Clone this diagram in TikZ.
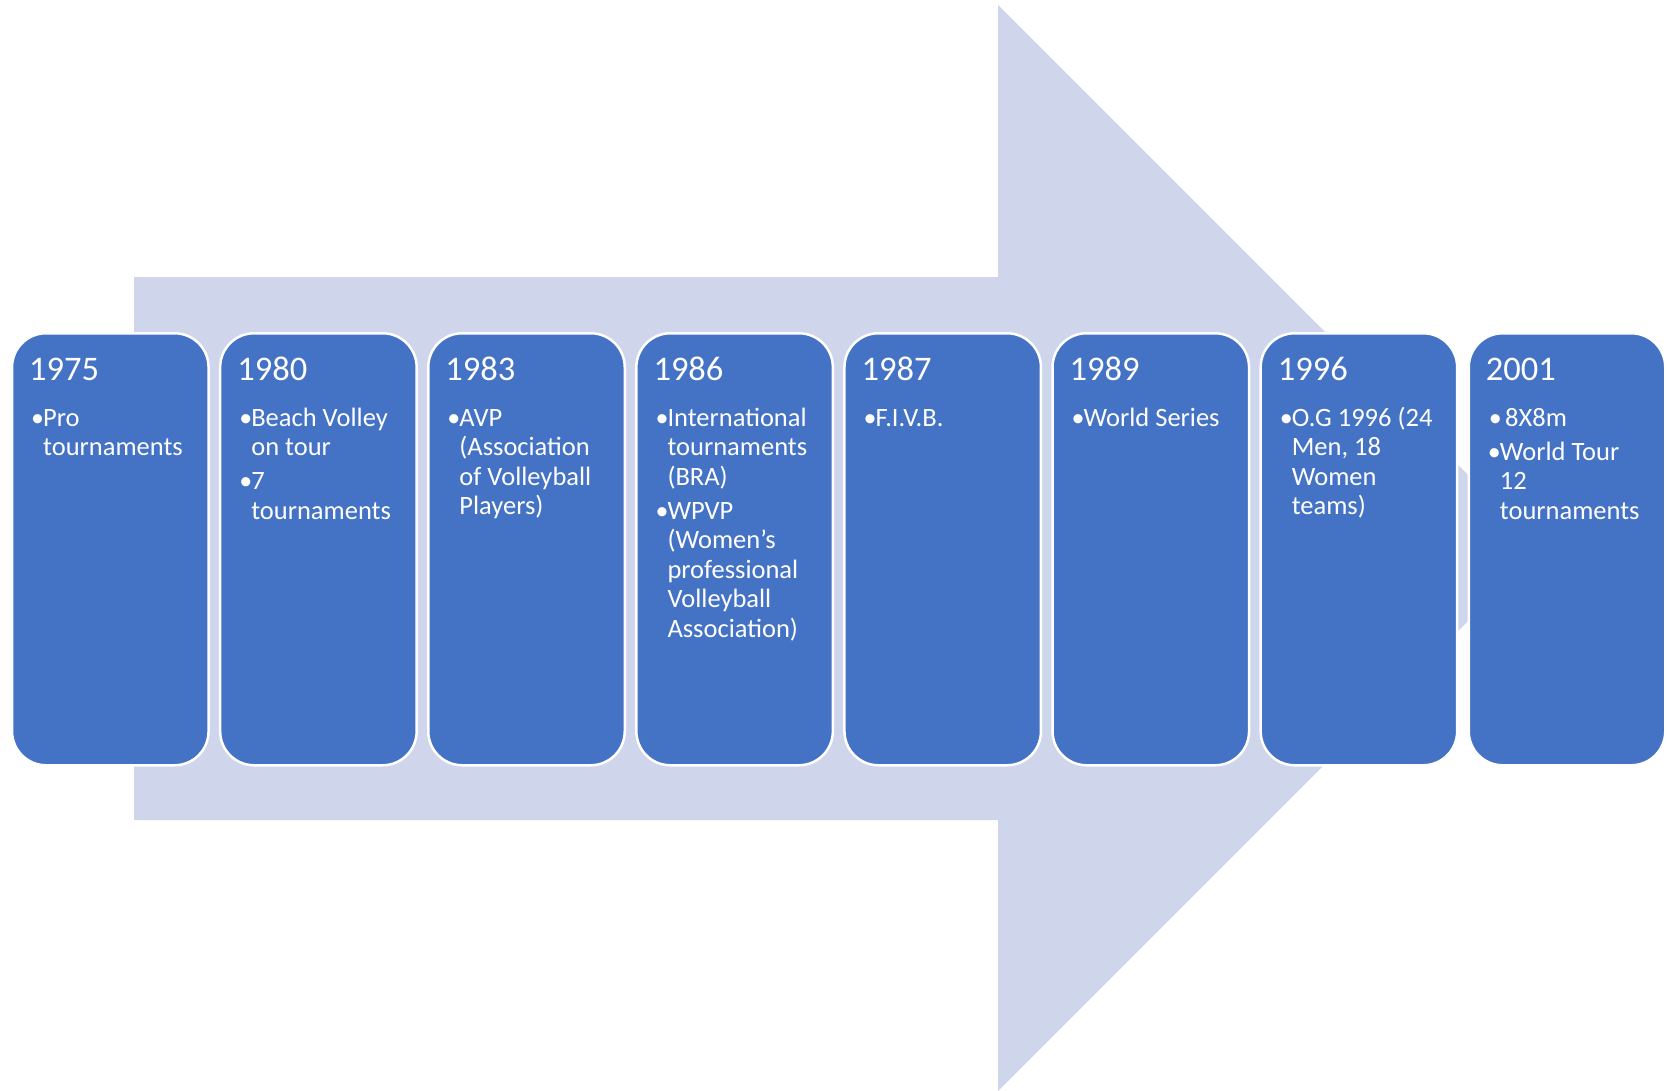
\documentclass[tikz,border=0pt]{standalone}
\usepackage{fontspec}
\setmainfont{Carlito}
\definecolor{boxblue}{HTML}{4472C4}
\definecolor{arrowbg}{HTML}{CFD5EA}
\tikzset{
  card/.style={draw=white, line width=2.5pt, fill=boxblue, rounded corners=34pt,
    minimum width=196.5pt, minimum height=432pt, anchor=north west, inner sep=0pt},
  yeartext/.style={anchor=base west, inner sep=0pt, text=white, font=\fontsize{34.5}{40}\selectfont},
  bulletdot/.style={anchor=base west, inner sep=0pt, text=white, font=\fontsize{26}{29.5}\selectfont},
  itemtext/.style={anchor=north west, inner sep=0pt, text=white, align=left, font=\fontsize{26.5}{29.5}\selectfont},
  bigarrow/.style={fill=arrowbg, draw=none}
}
\begin{document}
\begin{tikzpicture}[x=1pt, y=-1pt]
\useasboundingbox (0,0) rectangle (1667,1090);
% background arrow
\fill[bigarrow] (134,277) -- (998,277) -- (998,5) -- (1541,548) -- (998,1091) -- (998,820) -- (134,820) -- cycle;
% cards
\node[card] (c1) at (10.8,332) {};
\node[card] (c2) at (218.9,332) {};
\node[card] (c3) at (427.0,332) {};
\node[card] (c4) at (635.1,332) {};
\node[card] (c5) at (843.2,332) {};
\node[card] (c6) at (1051.3,332) {};
\node[card] (c7) at (1259.4,332) {};
\node[card] (c8) at (1467.5,332) {};
% years
\node[yeartext] (y1) at (29,380) {1975};
\node[yeartext] (y2) at (237.1,380) {1980};
\node[yeartext] (y3) at (445.2,380) {1983};
\node[yeartext] (y4) at (653.3,380) {1986};
\node[yeartext] (y5) at (861.4,380) {1987};
\node[yeartext] (y6) at (1069.5,380) {1989};
\node[yeartext] (y7) at (1277.6,380) {1996};
\node[yeartext] (y8) at (1485.7,380) {2001};
% box 1
\node[bulletdot] (b1a) at (31,426) {•};
\node[itemtext] (t1a) at (43,405.35) {\strut Pro\\tournaments};
% box 2
\node[bulletdot] (b2a) at (239.1,426) {•};
\node[itemtext] (t2a) at (251.1,405.35) {\strut Beach Volley\\on tour};
\node[bulletdot] (b2b) at (239.1,489.5) {•};
\node[itemtext] (t2b) at (251.1,468.85) {\strut 7\\tournaments};
% box 3
\node[bulletdot] (b3a) at (447.2,426) {•};
\node[itemtext] (t3a) at (459.2,405.35) {\strut AVP\\(Association\\of Volleyball\\Players)};
% box 4
\node[bulletdot] (b4a) at (655.3,426) {•};
\node[itemtext] (t4a) at (667.3,405.35) {\strut International\\tournaments\\(BRA)};
\node[bulletdot] (b4b) at (655.3,519) {•};
\node[itemtext] (t4b) at (667.3,498.35) {\strut WPVP\\(Women’s\\professional\\Volleyball\\Association)};
% box 5
\node[bulletdot] (b5a) at (863.4,426) {•};
\node[itemtext] (t5a) at (875.4,405.35) {\strut F.I.V.B.};
% box 6
\node[bulletdot] (b6a) at (1071.5,426) {•};
\node[itemtext] (t6a) at (1083.5,405.35) {\strut World Series};
% box 7
\node[bulletdot] (b7a) at (1279.6,426) {•};
\node[itemtext] (t7a) at (1291.6,405.35) {\strut O.G 1996 (24\\Men, 18\\Women\\teams)};
% box 8
\node[bulletdot] (b8a) at (1488.7,426) {•};
\node[itemtext] (t8a) at (1505,405.35) {\strut 8X8m};
\node[bulletdot] (b8b) at (1487.7,460) {•};
\node[itemtext] (t8b) at (1499.7,439.35) {\strut World Tour\\12\\tournaments};
\end{tikzpicture}
\end{document}
